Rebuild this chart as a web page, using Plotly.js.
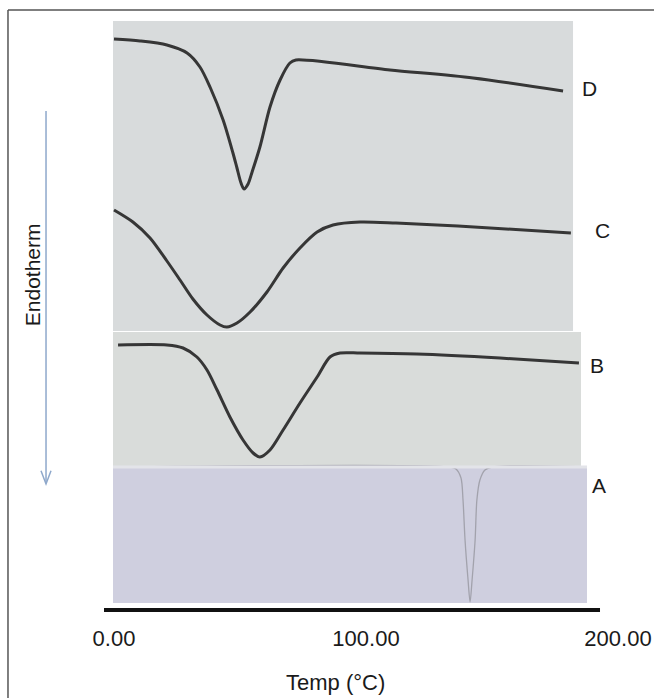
<!DOCTYPE html>
<html>
<head>
<meta charset="utf-8">
<script src="https://cdn.plot.ly/plotly-3.0.1.min.js"></script>
<style>html,body{margin:0;padding:0;background:#fff;}#chart{width:654px;height:698px;}</style>
</head>
<body>
<div id="chart"></div>
<script>
// Temperature (°C) and relative heat-flow readings (arbitrary units, stacked) for each thermogram
var tempD = [0, 10.3, 21.0, 29.0, 34.1, 38.1, 43.3, 47.2, 48.8, 50.4, 51.6, 53.2, 54.8, 57.9, 61.9, 65.9, 69.8, 72.2, 109.5, 142.5, 178.2];
var flowD = [114.2, 113.8, 113.0, 111.4, 108.6, 104.6, 98.0, 91.4, 88.4, 85.4, 84.2, 85.2, 87.6, 92.6, 100.6, 106.0, 109.4, 110.0, 108.0, 106.4, 103.8];

var tempC = [0, 7.5, 14.3, 21.0, 26.2, 31.3, 36.9, 42.1, 44.8, 48.8, 54.0, 60.7, 67.1, 73.8, 80.6, 86.9, 97.6, 111.9, 136.5, 181.3];
var flowC = [80.0, 77.6, 74.4, 69.8, 66.0, 62.2, 59.0, 57.0, 56.6, 57.4, 59.6, 63.6, 68.4, 72.4, 75.6, 77.0, 77.6, 77.4, 76.8, 75.4];

var tempB = [1.6, 21.0, 27.4, 32.9, 36.9, 40.9, 46.0, 51.2, 55.2, 57.9, 61.9, 67.1, 73.8, 80.6, 85.7, 89.7, 97.6, 120.2, 153.2, 184.5];
var flowB = [53.0, 53.0, 52.4, 50.6, 48.0, 44.0, 38.6, 34.0, 31.4, 30.6, 32.0, 36.0, 41.4, 46.6, 50.6, 51.4, 51.4, 51.2, 50.4, 49.4];

var tempA = [0, 133.3, 135.7, 137.7, 138.5, 139.3, 140.5, 141.3, 142.1, 143.3, 144.0, 145.2, 147.2, 150.0, 187.7];
var flowA = [28.6, 28.6, 28.2, 26.4, 22.0, 14.0, 6.0, 1.6, 6.0, 14.0, 22.0, 26.0, 28.0, 28.6, 28.6];

var tickValues = [0, 100, 200];
var tickLabels = ['0.00', '100.00', '200.00'];
var curveNames = ['D', 'C', 'B', 'A'];
var xTitle = 'Temp (°C)';
var yTitle = 'Endotherm';

var FONT = 'Liberation Sans, Arial, sans-serif';
var ink = '#363636';

function curve(x, y, name, color, width) {
  return {x: x, y: y, name: name, type: 'scatter', mode: 'lines',
          line: {color: color, width: width, shape: 'spline', smoothing: 0.8},
          hoverinfo: 'skip', showlegend: false};
}

var data = [
  curve(tempD, flowD, curveNames[0], ink, 3),
  curve(tempC, flowC, curveNames[1], ink, 3),
  curve(tempB, flowB, curveNames[2], ink, 3),
  curve(tempA, flowA, curveNames[3], '#a2a2ac', 1.3)
];

var shapes = [
  // outer frame (top and left edges)
  {type: 'line', xref: 'paper', yref: 'paper', x0: -0.1868, x1: 1.08, y0: 1.0, y1: 1.0, line: {color: '#555', width: 1.5}, layer: 'below'},
  {type: 'line', xref: 'paper', yref: 'paper', x0: -0.1868, x1: -0.1868, y0: 1.0, y1: -0.16, line: {color: '#555', width: 1.5}, layer: 'below'},
  // scanned panel backgrounds
  {type: 'rect', xref: 'paper', yref: 'paper', x0: 0.0175, x1: 0.9125, y0: 0.465, y1: 0.9817, fillcolor: '#d8dbdc', line: {width: 0}, layer: 'below'},
  {type: 'rect', xref: 'paper', yref: 'paper', x0: 0.0175, x1: 0.9280, y0: 0.2383, y1: 0.4633, fillcolor: '#d9dcda', line: {width: 0}, layer: 'below'},
  {type: 'rect', xref: 'paper', yref: 'paper', x0: 0.0175, x1: 0.9397, y0: 0.0117, y1: 0.2383, fillcolor: '#cfcfdf', line: {width: 0}, layer: 'below'},
  // light seam between panels B and A (covers the A baseline as in the scan)
  {type: 'line', xref: 'paper', yref: 'paper', x0: 0.0175, x1: 0.9397, y0: 0.2383, y1: 0.2383, line: {color: '#e3e4e9', width: 3}, layer: 'above'},
  // thick baseline
  {type: 'line', xref: 'paper', yref: 'paper', x0: 0, x1: 0.965, y0: 0, y1: 0, line: {color: '#111', width: 4}},
  // endotherm arrow
  {type: 'line', xref: 'paper', yref: 'paper', x0: -0.1128, x1: -0.1128, y0: 0.8317, y1: 0.212, line: {color: '#8ea8cb', width: 1.5}},
  {type: 'path', xref: 'paper', yref: 'paper', path: 'M -0.1226 0.232 L -0.1128 0.21 L -0.1031 0.232', line: {color: '#8ea8cb', width: 1.5}}
];

var labelPos = [[0.9455, 0.87], [0.9708, 0.6317], [0.9591, 0.4067], [0.9630, 0.2083]];
var annotations = curveNames.map(function (n, i) {
  return {text: n, xref: 'paper', yref: 'paper', x: labelPos[i][0], y: labelPos[i][1],
          xanchor: 'center', yanchor: 'middle', showarrow: false,
          font: {family: FONT, size: 21, color: '#1a1a1a'}};
});
annotations.push({text: yTitle, xref: 'paper', yref: 'paper', x: -0.140, y: 0.558,
                  xanchor: 'center', yanchor: 'middle', showarrow: false, textangle: -90,
                  font: {family: FONT, size: 21, color: '#1a1a1a'}});
annotations.push({text: xTitle, xref: 'paper', yref: 'paper', x: 0.451, y: -0.12,
                  xanchor: 'center', yanchor: 'middle', showarrow: false,
                  font: {family: FONT, size: 22, color: '#1a1a1a'}});

var layout = {
  width: 654, height: 698,
  margin: {l: 104, r: 36, t: 10, b: 88},
  paper_bgcolor: '#ffffff', plot_bgcolor: 'rgba(0,0,0,0)',
  font: {family: FONT, size: 21, color: '#1a1a1a'},
  xaxis: {
    range: [-3.97, 200], tickvals: tickValues, ticktext: tickLabels,
    showgrid: false, zeroline: false, showline: false,
    ticks: 'outside', ticklen: 9, tickcolor: 'rgba(0,0,0,0)',
    tickfont: {family: FONT, size: 22, color: '#1a1a1a'},
    fixedrange: true
  },
  yaxis: {range: [0, 120], visible: false, showgrid: false, zeroline: false, fixedrange: true},
  shapes: shapes,
  annotations: annotations,
  showlegend: false
};

Plotly.newPlot('chart', data, layout, {displayModeBar: false, staticPlot: true});
</script>
</body>
</html>
